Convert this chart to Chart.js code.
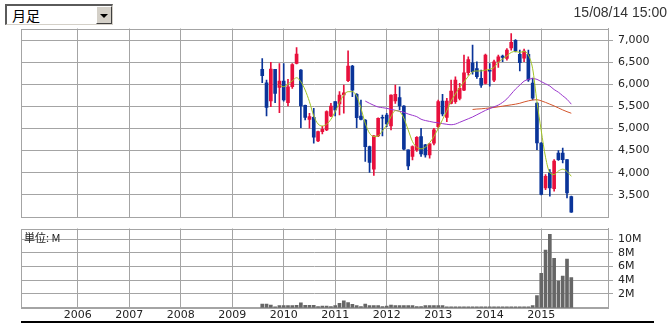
<!DOCTYPE html>
<html>
<head>
<meta charset="utf-8">
<script src="https://cdn.jsdelivr.net/npm/chart.js"></script>
<style>
  body { margin: 0; background: #fff; }
  #wrap { position: relative; width: 672px; height: 324px; overflow: hidden; }
  #wrap canvas { position: absolute; left: 0; top: 0; }
  #sel { position: absolute; left: 5px; top: 4px; width: 108px; height: 21px; box-sizing: border-box;
         border-top: 2px solid #5a5a5a; border-left: 2px solid #5a5a5a; border-right: 1px solid #d4d0c8; border-bottom: 1px solid #d4d0c8;
         background: #fff; font: 14px "Noto Sans CJK JP", sans-serif; color: #000; }
  #sel span { position: absolute; left: 5px; top: 0px; line-height: 18px; }
  #sel .btn { position: absolute; right: 0px; top: 0px; width: 16px; height: 18px; box-sizing: border-box; background: #d4d0c8;
              border-top: 1px solid #fff; border-left: 1px solid #fff; border-right: 1px solid #404040; border-bottom: 1px solid #404040; }
  #sel .btn i { position: absolute; left: 3px; top: 7px; width: 0; height: 0;
                border-left: 4px solid transparent; border-right: 4px solid transparent; border-top: 4px solid #000; }
  #stamp { position: absolute; right: 5px; top: 4px; font: 14px "Liberation Sans", Arial, sans-serif; color: #333; }
  #unit { position: absolute; left: 24px; top: 229px; font: 11px "Noto Sans CJK JP", sans-serif; color: #222; }
  #rule { position: absolute; left: 21px; top: 321px; width: 633px; height: 2px; background: #000; }
</style>
</head>
<body>
<div id="wrap">
  <canvas id="price" width="672" height="324"></canvas>
  <canvas id="volume" width="672" height="324"></canvas>
  <div id="sel"><span>月足</span><div class="btn"><i></i></div></div>
  <div id="stamp">15/08/14 15:00</div>
  <div id="unit">単位: M</div>
  <div id="rule"></div>
</div>
<script>
// monthly candles
const months = [
  '2009/08','2009/09','2009/10','2009/11','2009/12',
  '2010/01','2010/02','2010/03','2010/04','2010/05','2010/06','2010/07','2010/08','2010/09','2010/10','2010/11','2010/12',
  '2011/01','2011/02','2011/03','2011/04','2011/05','2011/06','2011/07','2011/08','2011/09','2011/10','2011/11','2011/12',
  '2012/01','2012/02','2012/03','2012/04','2012/05','2012/06','2012/07','2012/08','2012/09','2012/10','2012/11','2012/12',
  '2013/01','2013/02','2013/03','2013/04','2013/05','2013/06','2013/07','2013/08','2013/09','2013/10','2013/11','2013/12',
  '2014/01','2014/02','2014/03','2014/04','2014/05','2014/06','2014/07','2014/08','2014/09','2014/10','2014/11','2014/12',
  '2015/01','2015/02','2015/03','2015/04','2015/05','2015/06','2015/07','2015/08'
];
const openP = [
  6335, 6034, 5621, 6335, 5929,
  6072, 5584, 5944, 6470, 6320, 5524, 5208, 5253, 4720, 4930, 4968, 5283,
  5606, 5554, 5757, 6079, 6410, 5772, 5283, 5193, 4592, 4082, 4833, 5253,
  5306, 5058, 5621, 5697, 5509, 4517, 4367, 4517, 4818, 4630, 4405, 4668,
  5043, 5621, 5253, 5569, 5606, 5681, 5869, 6260, 6485, 6357, 6132, 6020,
  6320, 6095, 6508, 6635, 6583, 6820, 6990, 6677, 6587, 6677, 6024, 5573,
  4672, 3658, 3996, 3640, 4447, 4447, 4296, 3460
];
const highP = [
  6583, 6094, 6493, 6340, 6470,
  6470, 6110, 6470, 6830, 6330, 5530, 5344, 5456, 4940, 5050, 5400, 5569,
  5610, 5832, 5982, 6755, 6430, 5790, 5644, 5200, 4600, 4840, 5240, 5306,
  5344, 5760, 5982, 5944, 5520, 4520, 4608, 4818, 5006, 4640, 4660, 5006,
  5644, 5772, 5681, 6095, 6170, 6020, 6658, 6620, 6883, 6508, 6320, 6680,
  6470, 6545, 6658, 6658, 6808, 7148, 7010, 6775, 6797, 6775, 6137, 5580,
  4680, 3960, 4071, 4296, 4499, 4560, 4300, 3470
];
const lowP = [
  6034, 5283, 5494, 5584, 5359,
  5620, 5509, 5907, 6460, 5021, 5193, 5006, 4668, 4705, 4880, 4950, 5268,
  5283, 5306, 5344, 6057, 5719, 5021, 5193, 4255, 4007, 3939, 4818, 4833,
  5043, 4968, 5569, 5419, 4517, 4067, 4292, 4480, 4367, 4352, 4330, 4630,
  5006, 5283, 5156, 5554, 5569, 5644, 5854, 6207, 6230, 6132, 5929, 6010,
  5959, 6057, 6380, 6508, 6545, 6770, 6730, 6302, 6512, 6062, 5646, 4522,
  3500, 3620, 3470, 3583, 4280, 4221, 3433, 3105
];
const closeP = [
  6192, 5479, 6342, 5794, 6072,
  5644, 5944, 6447, 6680, 5509, 5253, 5268, 4803, 4930, 4980, 5381, 5509,
  5419, 5757, 5809, 6410, 5869, 5246, 5208, 4592, 4232, 4833, 5231, 5231,
  5103, 5757, 5772, 5509, 4532, 4157, 4592, 4803, 4427, 4405, 4653, 4968,
  5606, 5328, 5621, 5847, 6095, 5907, 6260, 6560, 6282, 6170, 5982, 6658,
  6297, 6508, 6620, 6605, 6770, 6950, 6752, 6489, 6752, 6099, 5686, 4672,
  3508, 3921, 3658, 4265, 4296, 4296, 3546, 3110
];
// moving averages (green / purple / orange)
const maShort = [
  null, null, null, null, 5982,
  5944, 6004, 6079, 6147, 6057, 5869, 5606, 5283, 5103, 5058, 5096, 5208,
  5381, 5584, 5757, 5832, 5832, 5734, 5456, 5118, 4893, 4818, 4833, 4945,
  5081, 5268, 5404, 5381, 5231, 4968, 4705, 4577, 4540, 4580, 4680, 4820,
  5000, 5200, 5400, 5620, 5780, 5930, 6050, 6180, 6280, 6300, 6300, 6320,
  6340, 6380, 6500, 6570, 6640, 6720, 6740, 6720, 6740, 6660, 6350, 5600,
  4950, 4350, 4000, 3960, 4040, 4080, 4030, 3920
];
const maMid = [
  null, null, null, null, null,
  null, null, null, null, null, null, null, null, null, null, null, null,
  null, null, null, null, null, null, null, 5620, 5569, 5524, 5486, 5471,
  5456, 5434, 5411, 5389, 5366, 5328, 5298, 5268, 5210, 5180, 5160, 5140,
  5130, 5110, 5095, 5085, 5100, 5140, 5180, 5220, 5260, 5310, 5360, 5410,
  5450, 5490, 5530, 5590, 5670, 5780, 5890, 5980, 6070, 6110, 6130, 6110,
  6060, 6010, 5960, 5880, 5820, 5740, 5660, 5550
];
const maLong = [
  null, null, null, null, null,
  null, null, null, null, null, null, null, null, null, null, null, null,
  null, null, null, null, null, null, null, null, null, null, null, null,
  null, null, null, null, null, null, null, null, null, null, null, null,
  null, null, null, null, null, null, null, null, 5430, 5440, 5445, 5455,
  5465, 5475, 5490, 5505, 5520, 5535, 5550, 5570, 5600, 5625, 5645, 5650,
  5625, 5590, 5550, 5510, 5465, 5420, 5380, 5345
];
// volume, millions
const volumeM = [
  0.54, 0.54, 0.4, 0.12, 0.3,
  0.3, 0.3, 0.3, 0.35, 0.7, 0.35, 0.35, 0.35, 0.15, 0.25, 0.25, 0.15,
  0.3, 0.63, 1.0, 0.73, 0.5, 0.3, 0.15, 0.54, 0.3, 0.3, 0.3, 0.15,
  0.25, 0.4, 0.3, 0.3, 0.3, 0.3, 0.3, 0.15, 0.15, 0.3, 0.3, 0.3,
  0.3, 0.3, 0.12, 0.12, 0.12, 0.12, 0.12, 0.12, 0.12, 0.12, 0.12, 0.12,
  0.12, 0.12, 0.12, 0.12, 0.12, 0.12, 0.12, 0.12, 0.12, 0.12, 0.3, 1.75,
  5.0, 8.4, 10.7, 7.2, 3.9, 4.6, 7.1, 4.4
];
const yearLabels = [2006, 2007, 2008, 2009, 2010, 2011, 2012, 2013, 2014, 2015];
const priceTicks = [3500, 4000, 4500, 5000, 5500, 6000, 6500, 7000];
const volumeTicks = [2, 4, 6, 8, 10];

const gridColor = '#a4a4a4';
const upColor = '#e8103c';
const downColor = '#0a3499';
const labelFont = { family: 'DejaVu Sans', size: 11 };

function monthPos(m) {
  const p = m.split('/').map(Number);
  return (p[0] - 2005) * 12 + (p[1] - 1);
}
function yearTicks(scale) {
  scale.ticks = yearLabels.map(y => ({ value: (y - 2005) * 12 }));
}
function lineData(arr) {
  return months.map((m, i) => ({ x: monthPos(m), y: arr[i] })).filter(p => p.y !== null);
}

const xMin = -1.2, xMax = 135.55;
const candleColors = closeP.map((c, i) => c >= openP[i] ? upColor : downColor);

const frame = {
  id: 'frame',
  beforeDatasetsDraw(chart) {
    const a = chart.chartArea, ctx = chart.ctx;
    ctx.save();
    ctx.strokeStyle = gridColor;
    ctx.lineWidth = 1;
    ctx.strokeRect(Math.round(a.left) + 0.5, Math.round(a.top) + 0.5,
                   Math.round(a.right) - Math.round(a.left), Math.round(a.bottom) - Math.round(a.top));
    ctx.restore();
  }
};

const maStyle = { type: 'line', borderWidth: 1, pointRadius: 0, cubicInterpolationMode: 'monotone', order: 1 };

new Chart(document.getElementById('price'), {
  type: 'bar',
  data: {
    datasets: [
      Object.assign({ data: lineData(maShort), borderColor: '#a2c423' }, maStyle),
      Object.assign({ data: lineData(maMid), borderColor: '#9a36cc' }, maStyle),
      Object.assign({ data: lineData(maLong), borderColor: '#d4552c' }, maStyle),
      { data: months.map((m, i) => ({ x: monthPos(m), y: [openP[i], closeP[i]] })),
        backgroundColor: candleColors, barThickness: 3, minBarLength: 1, grouped: false, order: 2 },
      { data: months.map((m, i) => ({ x: monthPos(m), y: [lowP[i], highP[i]] })),
        backgroundColor: candleColors, barThickness: 1, grouped: false, order: 3 }
    ]
  },
  options: {
    responsive: false,
    animation: false,
    devicePixelRatio: 1,
    layout: { padding: { left: 21, top: 28.5, right: 0, bottom: 107 } },
    plugins: { legend: { display: false }, tooltip: { enabled: false } },
    scales: {
      x: {
        type: 'linear', min: xMin, max: xMax, offset: false,
        afterBuildTicks: yearTicks,
        afterFit: s => { s.height = 0; },
        ticks: { display: false },
        grid: { color: gridColor, drawTicks: false, offset: false },
        border: { display: false }
      },
      y: {
        position: 'right', min: 3000, max: 7260,
        afterBuildTicks: s => { s.ticks = priceTicks.map(v => ({ value: v })); },
        afterFit: s => { s.width = 64; },
        ticks: { color: '#222', font: labelFont, padding: 5, callback: v => v.toLocaleString('en-US') },
        grid: { color: gridColor, tickLength: 5 },
        border: { color: gridColor }
      }
    }
  },
  plugins: [frame]
});

new Chart(document.getElementById('volume'), {
  type: 'bar',
  data: {
    datasets: [
      { data: months.map((m, i) => ({ x: monthPos(m), y: volumeM[i] })),
        backgroundColor: '#666666', barThickness: 3 }
    ]
  },
  options: {
    responsive: false,
    animation: false,
    devicePixelRatio: 1,
    layout: { padding: { left: 21, top: 228.5, right: 0, bottom: 2 } },
    plugins: { legend: { display: false }, tooltip: { enabled: false } },
    scales: {
      x: {
        type: 'linear', min: xMin, max: xMax, offset: false,
        afterBuildTicks: yearTicks,
        afterFit: s => { s.height = 14.3; },
        ticks: { color: '#222', font: labelFont, padding: 1, maxRotation: 0, autoSkip: false,
                 callback: v => String(2005 + v / 12) },
        grid: { color: gridColor, drawTicks: false, offset: false },
        border: { color: gridColor }
      },
      y: {
        position: 'right', min: 0, max: 11.55,
        afterBuildTicks: s => { s.ticks = volumeTicks.map(v => ({ value: v })); },
        afterFit: s => { s.width = 64; },
        ticks: { color: '#222', font: labelFont, padding: 5, callback: v => v + 'M' },
        grid: { color: gridColor, tickLength: 5 },
        border: { color: gridColor }
      }
    }
  },
  plugins: [frame]
});
</script>
</body>
</html>
